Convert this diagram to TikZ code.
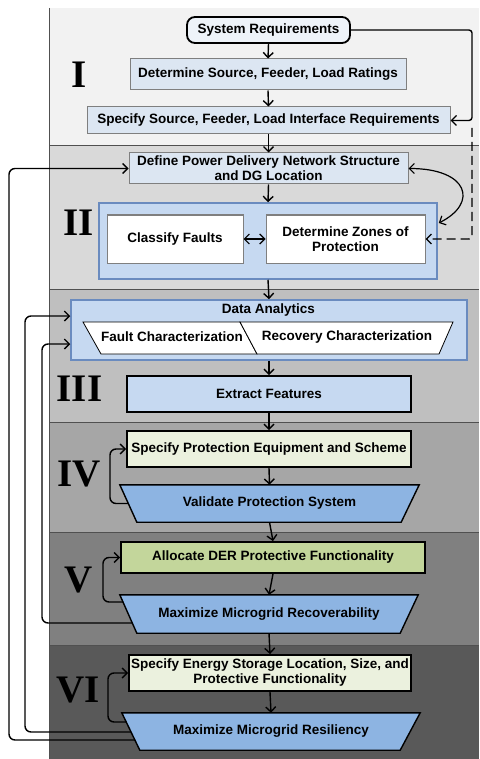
\documentclass[tikz,border=0pt]{standalone}
\usepackage{fontspec}
\setmainfont{Liberation Sans}
\newfontfamily\romfont{Liberation Serif}
\usetikzlibrary{arrows.meta,calc}
\definecolor{bandA}{HTML}{F2F2F2}
\definecolor{bandB}{HTML}{D9D9D9}
\definecolor{bandC}{HTML}{BFBFBF}
\definecolor{bandD}{HTML}{A6A6A6}
\definecolor{bandE}{HTML}{808080}
\definecolor{bandF}{HTML}{595959}
\definecolor{bandline}{HTML}{505050}
\definecolor{paleblue}{HTML}{DCE6F2}
\definecolor{contblue}{HTML}{C6D9F1}
\definecolor{contedge}{HTML}{6A8BBF}
\definecolor{trapblue}{HTML}{8DB4E2}
\definecolor{palegreen}{HTML}{EBF1DE}
\definecolor{midgreen}{HTML}{C3D69B}
\definecolor{sysfill}{HTML}{EEF3F9}
\definecolor{grayedge}{HTML}{7F7F7F}
\pgfdeclarelayer{back}
\pgfdeclarelayer{mid}
\pgfsetlayers{back,mid,main}
\tikzset{
  txt/.style={font=\fontsize{13.5}{15}\selectfont\bfseries, align=center, inner sep=0pt, text=black},
  palebox/.style={txt, draw=grayedge, fill=paleblue, line width=1pt},
  blkbox/.style={txt, draw=black, line width=1.8pt},
  sysbox/.style={txt, draw=black, fill=sysfill, line width=1.8pt, rounded corners=8pt},
  contbox/.style={draw=contedge, fill=contblue, line width=1.5pt, inner sep=0pt},
  whitebox/.style={txt, draw=grayedge, fill=white, line width=1pt},
  trapfill/.style={draw=black, fill=trapblue, line width=1.4pt},
  parfill/.style={draw=black, fill=white, line width=0.8pt},
  roman/.style={font=\romfont\bfseries\fontsize{39}{39}\selectfont, inner sep=0pt, text=black},
  arr/.style={-{Straight Barb[length=5pt,width=10pt]}, line width=1.4pt, rounded corners=6pt},
  darr/.style={{Straight Barb[length=5pt,width=10pt]}-{Straight Barb[length=5pt,width=10pt]}, line width=1.2pt},
  bandedge/.style={draw=bandline, line width=0.8pt}
}
\begin{document}
\begin{tikzpicture}[x=1pt,y=-1pt]
\useasboundingbox (0,0) rectangle (479,759);
% bands
\begin{pgfonlayer}{back}
\fill[white] (0,0) rectangle (479,759);
\fill[bandA] (49,8) rectangle (479,145);
\fill[bandB] (49,145) rectangle (479,289);
\fill[bandC] (49,289) rectangle (479,422);
\fill[bandD] (49,422) rectangle (479,532);
\fill[bandE] (49,532) rectangle (479,645);
\fill[bandF] (49,645) rectangle (479,759);
\draw[bandedge] (49,8) -- (49,759);
\draw[bandedge] (49,145) -- (479,145);
\draw[bandedge] (49,289) -- (479,289);
\draw[bandedge] (49,422) -- (479,422);
\draw[bandedge] (49,532) -- (479,532);
\draw[bandedge] (49,645) -- (479,645);
\end{pgfonlayer}

% roman numerals
\node[roman] (rI) at (79,75) {I};
\node[roman] (rII) at (78.5,222.5) {II};
\node[roman] (rIII) at (79.5,388.5) {III};
\node[roman] (rIV) at (79,474) {IV};
\node[roman] (rV) at (78.5,580) {V};
\node[roman] (rVI) at (78.5,690) {VI};

% Stage I
\node[sysbox, minimum width=163pt, minimum height=26pt] (sysreq) at (268.5,30) {System Requirements};
\node[palebox, minimum width=276pt, minimum height=31pt] (detsrc) at (268,74.5) {Determine Source, Feeder, Load Ratings};
\node[palebox, minimum width=363pt, minimum height=27pt] (specsrc) at (268.5,120.5) {Specify Source, Feeder, Load Interface Requirements};

% Stage II
\node[palebox, minimum width=279pt, minimum height=31pt] (define) at (268.5,168.5) {Define Power Delivery Network Structure\\and DG Location};
\node[contbox, minimum width=338pt, minimum height=76pt] (cont2) at (268,241) {};
\node[whitebox, minimum width=136pt, minimum height=48pt] (classify) at (175,239) {Classify Faults};
\node[whitebox, minimum width=159pt, minimum height=48pt] (zones) at (345.5,239) {Determine Zones of\\Protection};

% Stage III
\node[contbox, minimum width=396pt, minimum height=60pt] (data) at (269,330) {};
\node[txt] (datatitle) at (268.5,310) {Data Analytics};
\draw[parfill] (83,322) -- (240,322) -- (257,354) -- (101,354) -- cycle;
\draw[parfill] (240,322) -- (453,322) -- (439,354) -- (257,354) -- cycle;
\node[txt] (faultc) at (172,337) {Fault Characterization};
\node[txt] (recovc) at (347,337) {Recovery Characterization};
\node[blkbox, fill=contblue, minimum width=284pt, minimum height=36pt] (extract) at (269,394) {Extract Features};

% Stage IV
\node[blkbox, fill=palegreen, minimum width=284pt, minimum height=36pt] (specprot) at (269,449) {Specify Protection Equipment and Scheme};
\node[txt, minimum width=299pt, minimum height=37pt] (valid) at (269.5,503.5) {Validate Protection System};

% Stage V
\node[blkbox, fill=midgreen, minimum width=304pt, minimum height=31pt] (alloc) at (273,557.5) {Allocate DER Protective Functionality};
\node[txt, minimum width=298pt, minimum height=38pt] (recov) at (269,614) {Maximize Microgrid Recoverability};

% Stage VI
\node[blkbox, fill=palegreen, minimum width=282pt, minimum height=36pt] (specES) at (270,673) {Specify Energy Storage Location, Size, and\\Protective Functionality};
\node[txt, minimum width=298pt, minimum height=37pt] (resil) at (271,731.5) {Maximize Microgrid Resiliency};

% trapezoid outlines
\begin{pgfonlayer}{mid}
\draw[trapfill] (valid.north west) -- (valid.north east) -- ([xshift=-18pt]valid.south east) -- ([xshift=17pt]valid.south west) -- cycle;
\draw[trapfill] (recov.north west) -- (recov.north east) -- ([xshift=-18pt]recov.south east) -- ([xshift=17pt]recov.south west) -- cycle;
\draw[trapfill] (resil.north west) -- (resil.north east) -- ([xshift=-20pt]resil.south east) -- ([xshift=18pt]resil.south west) -- cycle;
\end{pgfonlayer}

% coordinates for free ends / side entries
\coordinate (cornerTR) at (472,30);
\coordinate (dashS) at (472,128);
\coordinate (c2R) at ($(cont2.east)+(1,-18)$);
\coordinate (dataIn1) at ($(data.west)+(0,-14)$);
\coordinate (dataIn2) at ($(data.west)+(0,14)$);
\coordinate (valL) at (128,503.5);
\coordinate (recL) at (123,602);
\coordinate (recF) at (132.5,623);
\coordinate (resL) at (126,722);
\coordinate (resF1) at (131,732);
\coordinate (resF2) at (135,740);

% main flow
\draw[arr] (sysreq.south) -- (detsrc.north);
\draw[arr] (detsrc.south) -- (specsrc.north);
\draw[arr] (specsrc.south) -- (define.north);
\draw[arr] (define.south) -- (cont2.north);
\draw[arr] (cont2.south) -- (data.north);
\draw[arr] (data.south) -- (extract.north);
\draw[arr] (extract.south) -- (specprot.north);
\draw[arr] (specprot.south) -- (valid.north);
\draw[arr] (valid.south) -- (alloc.north);
\draw[arr] (alloc.south) -- (recov.north);
\draw[arr] (recov.south) -- (specES.north);
\draw[arr] (specES.south) -- (resil.north);

% side connectors
\draw[arr, rounded corners=3pt] (sysreq.east) -- (cornerTR) |- (specsrc.east);
\draw[arr, rounded corners=3pt, dash pattern=on 9pt off 5pt] (dashS) |- (zones.east);
\draw[darr] (classify.east) -- (zones.west);
\draw[darr] (define.east) .. controls +(60,0) and +(40,-20) .. (c2R);

% loops
\draw[arr] (valL) -- ++(-18,0) |- (specprot.west);
\draw[arr] (recL) -- ++(-20,0) |- (alloc.west);
\draw[arr] (resL) -- ++(-18,0) |- (specES.west);

% feedback
\draw[arr] (recF) -- (42,623) |- (dataIn2);
\draw[arr] (resF1) -- (25,732) |- (dataIn1);
\draw[arr] (resF2) -- (9,740) |- (define.west);
\end{tikzpicture}
\end{document}
